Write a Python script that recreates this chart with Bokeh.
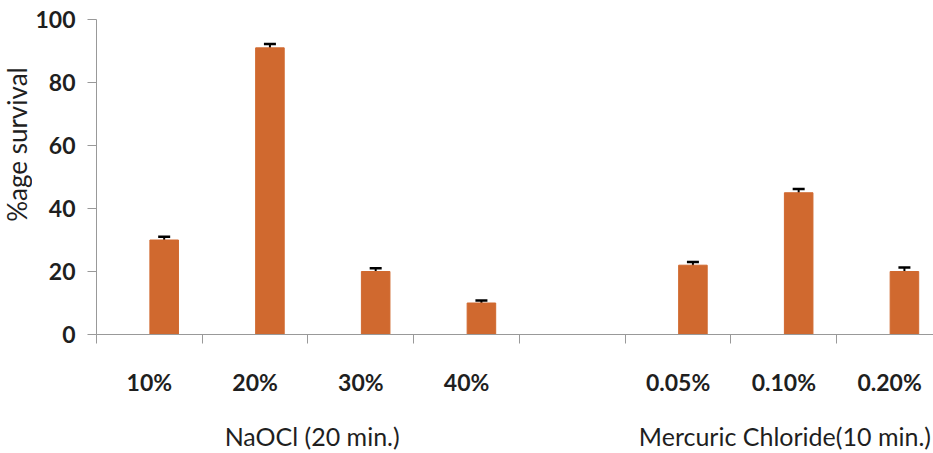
import math
from bokeh.plotting import figure
from bokeh.layouts import row
from bokeh.models import (ColumnDataSource, Whisker, TeeHead, Range1d, FixedTicker,
                          LinearAxis)
from bokeh.core.properties import value
from bokeh.embed import file_html
from bokeh.resources import INLINE

# ---- data ----
categories = ["10%", "20%", "30%", "40%", "", "0.05%", "0.10%", "0.20%"]
survival = [30, 91, 20, 10, None, 22, 45, 20]
errors = [1.0, 1.2, 1.0, 0.8, None, 1.0, 1.2, 1.3]
groups = ["NaOCl   (20 min.)", "Mercuric Chloride(10 min.)"]
group_spans = [(0, 4), (5, 8)]
y_ticks = [0, 20, 40, 60, 80, 100]
y_label = "%age survival"

BAR_COLOR = "#D0692F"
AXIS_COLOR = "#999999"
TEXT_COLOR = "#1f1f1f"
FONT = "Lato"

LABEL_W = 32
TOP, BOTTOM = 19, 117

xs, tops, lows, ups = [], [], [], []
for i, (v, e) in enumerate(zip(survival, errors)):
    if v is None:
        continue
    x = i + 0.5 + 0.14
    xs.append(x)
    tops.append(v)
    lows.append(v - e)
    ups.append(v + e)
src = ColumnDataSource(dict(x=xs, top=tops, lower=lows, upper=ups))

yr = Range1d(0, 100)

# narrow strip carrying the rotated y-axis title
lp = figure(width=LABEL_W, height=453, output_backend="svg", toolbar_location=None,
            x_range=Range1d(0, LABEL_W), y_range=yr,
            x_axis_location=None, y_axis_location=None,
            min_border_left=0, min_border_right=0, min_border_top=TOP,
            min_border_bottom=BOTTOM)
lp.outline_line_color = None
lp.xgrid.visible = False
lp.ygrid.visible = False
lp.text(x=[LABEL_W / 2], y=[60.3], text=[y_label], angle=math.pi / 2,
        text_align="center", text_baseline="middle",
        text_font=value(FONT), text_font_size="26px", text_color=TEXT_COLOR)

p = figure(width=933 - LABEL_W, height=453, output_backend="svg", toolbar_location=None,
           x_range=Range1d(0, 7.915), y_range=yr,
           min_border_left=94 - LABEL_W, min_border_top=TOP, min_border_right=0,
           min_border_bottom=5)
p.outline_line_color = None
p.xgrid.visible = False
p.ygrid.visible = False
p.background_fill_color = "white"
p.border_fill_color = "white"

p.vbar(x="x", top="top", width=0.27, source=src, fill_color=BAR_COLOR,
       line_color=BAR_COLOR)
w = Whisker(base="x", lower="lower", upper="upper", source=src, dimension="height",
            line_color="black", line_width=2,
            upper_head=TeeHead(size=12, line_width=2.5, line_color="black"),
            lower_head=TeeHead(size=12, line_width=2.5, line_color="black"))
p.add_layout(w)

# y axis
ya = p.yaxis[0]
ya.ticker = FixedTicker(ticks=y_ticks)
ya.axis_line_color = AXIS_COLOR
ya.major_tick_line_color = AXIS_COLOR
ya.major_tick_in = 0
ya.major_tick_out = 9
ya.minor_tick_line_color = None
ya.major_label_text_font = FONT
ya.major_label_text_font_style = "bold"
ya.major_label_text_font_size = "23px"
ya.major_label_text_color = TEXT_COLOR
ya.major_label_standoff = 12

# x axis: labels at slot centres, tick marks at slot boundaries
xa = p.xaxis[0]
centers = [i + 0.5 for i in range(len(categories))]
xa.ticker = FixedTicker(ticks=centers, minor_ticks=list(range(len(categories) + 1)))
xa.major_label_overrides = {c: lab for c, lab in zip(centers, categories)}
xa.axis_line_color = AXIS_COLOR
xa.major_tick_line_color = None
xa.major_tick_in = 0
xa.major_tick_out = 0
xa.minor_tick_line_color = AXIS_COLOR
xa.minor_tick_in = 0
xa.minor_tick_out = 9
xa.major_label_text_font = FONT
xa.major_label_text_font_style = "bold"
xa.major_label_text_font_size = "23px"
xa.major_label_text_color = TEXT_COLOR
xa.major_label_standoff = 24

# group labels as a second axis below
gcenters = [(a + b) / 2 + (0.1 if k == 0 else 0.01) for k, (a, b) in enumerate(group_spans)]
ga = LinearAxis(ticker=FixedTicker(ticks=gcenters, minor_ticks=[]))
ga.major_label_overrides = {c: g for c, g in zip(gcenters, groups)}
ga.axis_line_color = None
ga.major_tick_line_color = None
ga.minor_tick_line_color = None
ga.major_tick_out = 0
ga.major_tick_in = 0
ga.major_label_text_font = FONT
ga.major_label_text_font_size = "25px"
ga.major_label_text_color = TEXT_COLOR
ga.major_label_standoff = 22
p.add_layout(ga, "below")

layout = row(lp, p, spacing=0)
open("out.html", "w").write(file_html(layout, INLINE))
